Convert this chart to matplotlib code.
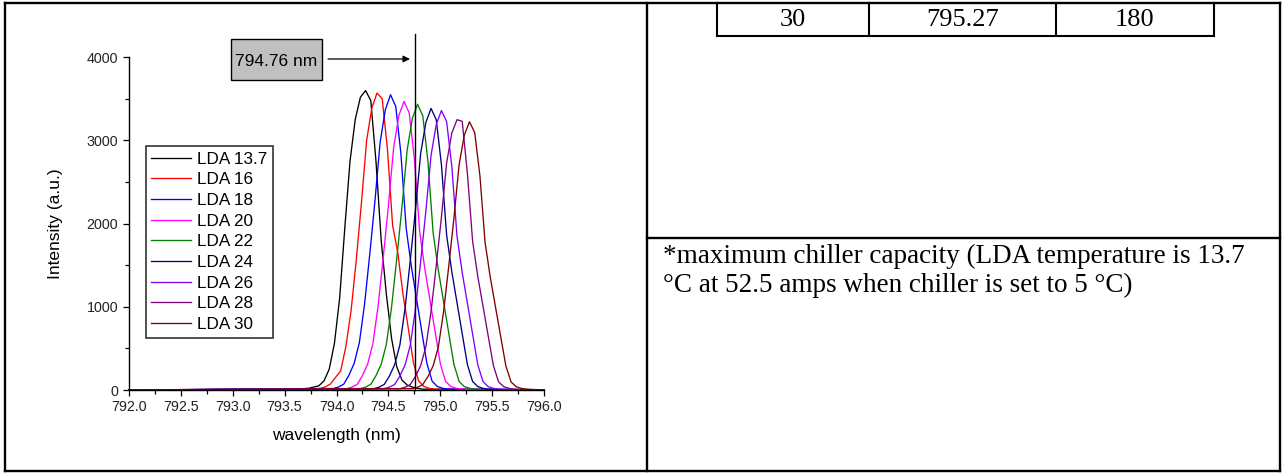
import matplotlib
matplotlib.use('Agg')
import matplotlib.pyplot as plt
from matplotlib.lines import Line2D
from matplotlib.patches import Rectangle, FancyArrowPatch
from matplotlib.ticker import MultipleLocator

# spectra: wavelength (nm) / intensity (a.u.) per LDA temperature
wl_137 = [792.00, 793.60, 793.73, 793.78, 793.83, 793.88, 793.93, 793.98, 794.03, 794.08, 794.13, 794.18, 794.23,
          794.28, 794.33, 794.38, 794.43, 794.48, 794.53, 794.58, 794.63, 794.68, 794.73, 794.78, 794.83, 796.00]
int_137 = [0, 10, 20, 35, 50, 110, 250, 560, 1100, 1950, 2750, 3250, 3520,
           3600, 3480, 2750, 1800, 1150, 620, 280, 120, 60, 35, 20, 10, 0]

wl_16 = [792.00, 793.84, 793.89, 793.94, 793.99, 794.04, 794.09, 794.14, 794.19, 794.24, 794.29, 794.34,
         794.39, 794.44, 794.49, 794.54, 794.59, 794.64, 794.69, 794.74, 794.79, 794.84, 794.89, 794.94, 796.00]
int_16 = [0, 18, 36, 71, 150, 230, 520, 950, 1560, 2250, 3000, 3390,
          3570, 3500, 2900, 1980, 1650, 1150, 750, 330, 110, 43, 21, 11, 0]

wl_18 = [792.00, 793.97, 794.02, 794.07, 794.12, 794.17, 794.22, 794.27, 794.32, 794.37, 794.42, 794.47,
         794.52, 794.57, 794.62, 794.67, 794.72, 794.77, 794.82, 794.87, 794.92, 794.97, 795.02, 795.07, 796.00]
int_18 = [0, 18, 36, 71, 178, 320, 570, 1030, 1630, 2270, 2980, 3370,
          3550, 3410, 2840, 1950, 1490, 1100, 710, 320, 107, 43, 21, 11, 0]

wl_20 = [792.00, 794.10, 794.15, 794.20, 794.25, 794.30, 794.35, 794.40, 794.45, 794.50, 794.55, 794.60,
         794.65, 794.70, 794.75, 794.80, 794.85, 794.90, 794.95, 795.00, 795.05, 795.10, 795.15, 795.20, 796.00]
int_20 = [0, 17, 35, 69, 174, 312, 555, 1006, 1596, 2220, 2915, 3300,
          3470, 3330, 2776, 1908, 1457, 1076, 694, 312, 104, 42, 21, 10, 0]

wl_22 = [792.00, 794.23, 794.28, 794.33, 794.38, 794.43, 794.48, 794.53, 794.58, 794.63, 794.68, 794.73,
         794.78, 794.83, 794.88, 794.93, 794.98, 795.03, 795.08, 795.13, 795.18, 795.23, 795.28, 795.33, 796.00]
int_22 = [0, 17, 34, 69, 172, 309, 550, 996, 1580, 2200, 2885, 3265,
          3435, 3300, 2750, 1890, 1443, 1065, 687, 309, 103, 41, 21, 10, 0]

wl_24 = [792.00, 794.36, 794.41, 794.46, 794.51, 794.56, 794.61, 794.66, 794.71, 794.76, 794.81, 794.86,
         794.91, 794.96, 795.01, 795.06, 795.11, 795.16, 795.21, 795.26, 795.31, 795.36, 795.41, 795.46, 796.00]
int_24 = [0, 17, 34, 68, 169, 305, 542, 982, 1557, 2166, 2843, 3216,
          3385, 3250, 2708, 1862, 1422, 1049, 677, 305, 102, 41, 20, 10, 0]

wl_26 = [792.00, 794.46, 794.51, 794.56, 794.61, 794.66, 794.71, 794.76, 794.81, 794.86, 794.91, 794.96,
         795.01, 795.06, 795.11, 795.16, 795.21, 795.26, 795.31, 795.36, 795.41, 795.46, 795.51, 795.56, 796.00]
int_26 = [0, 17, 34, 67, 168, 302, 538, 974, 1546, 2150, 2822, 3192,
          3360, 3226, 2688, 1848, 1411, 1042, 672, 302, 101, 40, 20, 10, 0]

wl_28 = [792.00, 794.61, 794.66, 794.71, 794.76, 794.81, 794.86, 794.91, 794.96, 795.01, 795.06, 795.11,
         795.16, 795.21, 795.26, 795.31, 795.36, 795.41, 795.46, 795.51, 795.56, 795.61, 795.66, 795.71, 796.00]
int_28 = [0, 16, 33, 65, 163, 293, 520, 943, 1495, 2080, 2730, 3090,
          3250, 3230, 2600, 1790, 1365, 1008, 650, 293, 98, 39, 20, 10, 0]

wl_30 = [792.00, 794.73, 794.78, 794.83, 794.88, 794.93, 794.98, 795.03, 795.08, 795.13, 795.18, 795.23,
         795.28, 795.33, 795.38, 795.43, 795.48, 795.53, 795.58, 795.63, 795.68, 795.73, 795.78, 795.83, 796.00]
int_30 = [0, 16, 32, 65, 161, 290, 516, 935, 1484, 2064, 2709, 3064,
          3225, 3096, 2580, 1774, 1355, 1000, 645, 290, 97, 39, 19, 10, 0]

labels = ["LDA 13.7", "LDA 16", "LDA 18", "LDA 20", "LDA 22", "LDA 24", "LDA 26", "LDA 28", "LDA 30"]
colors = ["#000000", "#FF0000", "#0000FF", "#FF00FF", "#008000", "#000080", "#8000FF", "#800080", "#800000"]
marker_wl = 794.76

# last table row + footnote
row_cells = ["30", "795.27", "180"]
footnote = ["*maximum chiller capacity (LDA temperature is 13.7",
            "\u00b0C at 52.5 amps when chiller is set to 5 \u00b0C)"]

W, H = 1282, 475


def fx(px):
    return px / W


def fy(py):
    return 1 - py / H


def line(fig, x0, y0, x1, y1, lw=1.7):
    fig.add_artist(Line2D([fx(x0), fx(x1)], [fy(y0), fy(y1)], color='black', lw=lw,
                          solid_capstyle='projecting'))


fig = plt.figure(figsize=(12.82, 4.75), dpi=100)

# page table frame
line(fig, 4.5, 2.8, 1279.5, 2.8)
line(fig, 4.5, 471, 1279.5, 471)
line(fig, 4.5, 2.8, 4.5, 471)
line(fig, 1279.5, 2.8, 1279.5, 471)
line(fig, 647, 2.8, 647, 471)
line(fig, 647, 238, 1279.5, 238)

# table row at the top right
line(fig, 717, 3, 717, 35.5, lw=1.5)
line(fig, 869, 3, 869, 35.5, lw=1.5)
line(fig, 1056, 3, 1056, 35.5, lw=1.5)
line(fig, 1213.5, 3, 1213.5, 35.5, lw=1.5)
line(fig, 717, 35.5, 1213.5, 35.5, lw=1.5)
for cx, txt in zip([793, 962.5, 1134.5], row_cells):
    fig.text(fx(cx), fy(20), txt, ha='center', va='center', fontsize=19, family='Liberation Serif')

fig.text(fx(663), fy(256), footnote[0], ha='left', va='center', fontsize=19.5, family='Liberation Serif')
fig.text(fx(663), fy(285), footnote[1], ha='left', va='center', fontsize=19.5, family='Liberation Serif')

# spectra plot
ax = fig.add_axes([fx(128.7), fy(390), fx(544.3) - fx(128.7), fy(57.3) - fy(390)])
series = [(wl_137, int_137), (wl_16, int_16), (wl_18, int_18), (wl_20, int_20), (wl_22, int_22),
          (wl_24, int_24), (wl_26, int_26), (wl_28, int_28), (wl_30, int_30)]
for (x, y), lab, c in zip(series, labels, colors):
    ax.plot(x, y, color=c, lw=0.95, label=lab, clip_on=False)

ax.set_xlim(792, 796)
ax.set_ylim(0, 4000)
ax.xaxis.set_major_locator(MultipleLocator(0.5))
ax.xaxis.set_minor_locator(MultipleLocator(0.25))
ax.yaxis.set_major_locator(MultipleLocator(1000))
ax.yaxis.set_minor_locator(MultipleLocator(500))
ax.xaxis.set_major_formatter(plt.FormatStrFormatter('%.1f'))
for s in ['top', 'right']:
    ax.spines[s].set_visible(False)
for s in ['left', 'bottom']:
    ax.spines[s].set_linewidth(1.0)
ax.tick_params(which='major', direction='out', length=4.5, width=0.9, labelsize=10.3, pad=3)
ax.tick_params(which='minor', direction='out', length=3, width=0.9)
for t in ax.get_xticklabels() + ax.get_yticklabels():
    t.set_family('Liberation Sans')
    t.set_color('#222222')
ax.set_xlabel("wavelength (nm)", fontsize=12.5, family='Liberation Sans', labelpad=10)
ax.set_ylabel("Intensity (a.u.)", fontsize=12.5, family='Liberation Sans', labelpad=17)

# marker line for the 794.76 nm peak
ax.plot([marker_wl, marker_wl], [0, 4280], color='black', lw=1.0, clip_on=False)

leg = ax.legend(loc='upper left', bbox_to_anchor=(fx(145.5), fy(145.7)), bbox_transform=fig.transFigure,
                borderaxespad=0, frameon=True, fancybox=False, framealpha=1, edgecolor='#333333',
                prop={'family': 'Liberation Sans', 'size': 12.3}, handlelength=2.3, handletextpad=0.35,
                labelspacing=0.33, borderpad=0.35)
leg.get_frame().set_linewidth(1.2)

# label box with arrow
fig.add_artist(Rectangle((fx(231.5), fy(80)), fx(322) - fx(231.5), fy(39.3) - fy(80),
                         transform=fig.transFigure, facecolor='#C0C0C0', edgecolor='black', lw=1.0))
fig.text(fx(276), fy(61), "%.2f nm" % marker_wl, ha='center', va='center', fontsize=12.5,
         family='Liberation Sans')
fig.add_artist(FancyArrowPatch((fx(328), fy(59)), (fx(410), fy(59)), transform=fig.transFigure,
                               arrowstyle='-|>', mutation_scale=10, lw=0.9, color='black',
                               shrinkA=0, shrinkB=0))

fig.savefig('out.png', dpi=100)
